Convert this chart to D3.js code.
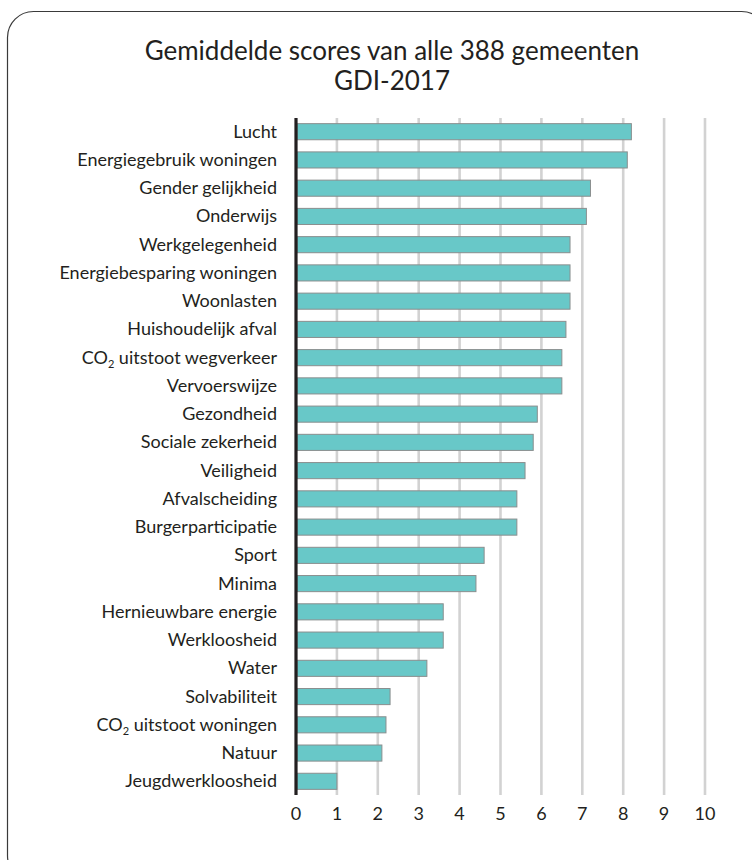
<!DOCTYPE html>
<html>
<head>
<meta charset="utf-8">
<script src="https://cdn.jsdelivr.net/npm/d3@7"></script>
<style>
  html, body { margin: 0; padding: 0; background: #fff; }
  svg { display: block; }
  text { font-family: Lato, "Open Sans", sans-serif; fill: #231f20; }
</style>
</head>
<body>
<svg id="chart" width="752" height="860"></svg>
<script>
const categories = [
  "Lucht", "Energiegebruik woningen", "Gender gelijkheid", "Onderwijs",
  "Werkgelegenheid", "Energiebesparing woningen", "Woonlasten", "Huishoudelijk afval",
  "CO2 uitstoot wegverkeer", "Vervoerswijze", "Gezondheid", "Sociale zekerheid",
  "Veiligheid", "Afvalscheiding", "Burgerparticipatie", "Sport", "Minima",
  "Hernieuwbare energie", "Werkloosheid", "Water", "Solvabiliteit",
  "CO2 uitstoot woningen", "Natuur", "Jeugdwerkloosheid"
];
const scores = [
  8.2, 8.1, 7.2, 7.1,
  6.7, 6.7, 6.7, 6.6,
  6.5, 6.5, 5.9, 5.8,
  5.6, 5.4, 5.4, 4.6, 4.4,
  3.6, 3.6, 3.2, 2.3,
  2.2, 2.1, 1.0
];
const tickValues = [0, 1, 2, 3, 4, 5, 6, 7, 8, 9, 10];
const titleLines = ["Gemiddelde scores van alle 388 gemeenten", "GDI-2017"];

const svg = d3.select("#chart");

// frame
svg.append("rect")
  .attr("x", 7.5).attr("y", 11.5)
  .attr("width", 760).attr("height", 870)
  .attr("rx", 26).attr("ry", 26)
  .attr("fill", "none").attr("stroke", "#3a3a3a").attr("stroke-width", 1.2);

// title
svg.append("text")
  .attr("text-anchor", "middle")
  .attr("font-size", 26)
  .selectAll("tspan").data(titleLines).join("tspan")
  .attr("x", 392)
  .attr("y", (d, i) => 60 + i * 30)
  .text(d => d);

const x = d3.scaleLinear().domain([0, 10]).range([296, 705]);
const y = d3.scaleBand().domain(categories).range([118, 795])
  .paddingInner(0.43).paddingOuter(0.2);

// gridlines
svg.append("g").selectAll("line")
  .data(tickValues.filter(t => t > 0)).join("line")
  .attr("x1", d => x(d)).attr("x2", d => x(d))
  .attr("y1", 118).attr("y2", 795)
  .attr("stroke", "#d2d2d2").attr("stroke-width", 2.6);

// bars
const data = categories.map((c, i) => ({ c, v: scores[i] }));
svg.append("g").selectAll("rect")
  .data(data).join("rect")
  .attr("x", x(0) + 1)
  .attr("y", d => y(d.c))
  .attr("width", d => x(d.v) - x(0) - 1)
  .attr("height", y.bandwidth())
  .attr("fill", "#68c8c8")
  .attr("stroke", "#8a8e8e").attr("stroke-width", 1);

// axis line
svg.append("line")
  .attr("x1", x(0)).attr("x2", x(0))
  .attr("y1", 118).attr("y2", 795)
  .attr("stroke", "#231f20").attr("stroke-width", 3.2);

// category labels
const labels = svg.append("g").selectAll("text")
  .data(data).join("text")
  .attr("x", 277)
  .attr("y", d => y(d.c) + y.bandwidth() / 2 + 6)
  .attr("text-anchor", "end")
  .attr("font-size", 18);
labels.each(function(d) {
  const t = d3.select(this);
  if (d.c.startsWith("CO2")) {
    t.append("tspan").text("CO");
    t.append("tspan").attr("font-size", 11).attr("dy", 4).text("2");
    t.append("tspan").attr("dy", -4).text(d.c.slice(3));
  } else {
    t.text(d.c);
  }
});

// tick labels
svg.append("g").selectAll("text")
  .data(tickValues).join("text")
  .attr("x", d => x(d))
  .attr("y", 820)
  .attr("text-anchor", "middle")
  .attr("font-size", 18)
  .text(d => d);
</script>
</body>
</html>
